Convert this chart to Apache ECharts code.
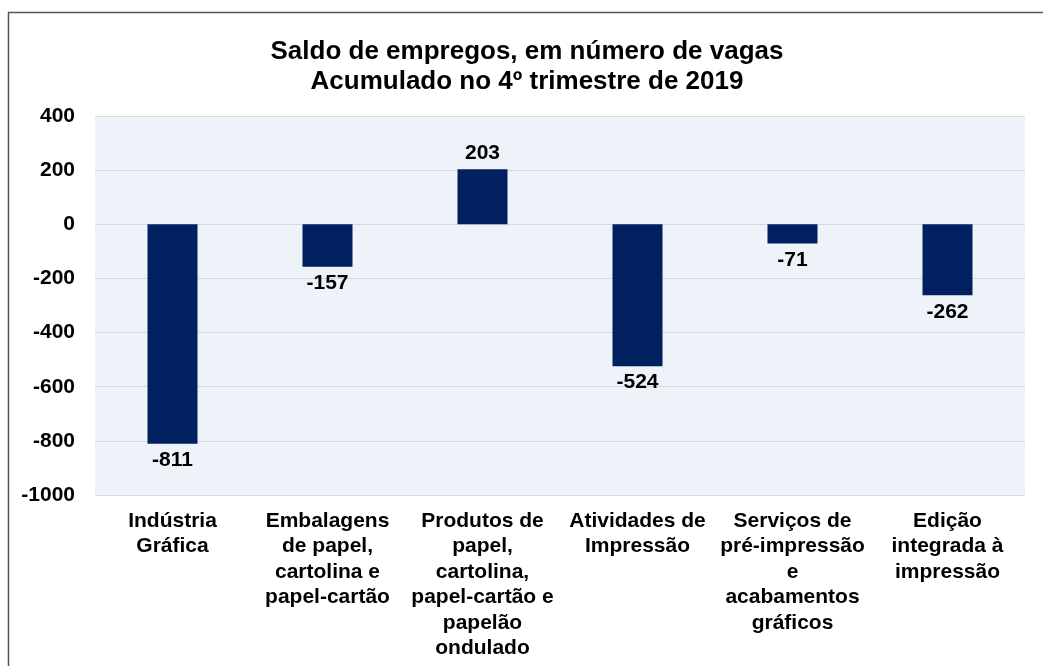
<!DOCTYPE html>
<html>
<head>
<meta charset="utf-8">
<script src="https://cdn.jsdelivr.net/npm/echarts@6/dist/echarts.min.js"></script>
<style>
  html, body { margin: 0; padding: 0; background: #fff; }
  #main { width: 1043px; height: 666px; }
</style>
</head>
<body>
<div id="main"></div>
<script>
var categories = [
  'Indústria\nGráfica',
  'Embalagens\nde papel,\ncartolina e\npapel-cartão',
  'Produtos de\npapel,\ncartolina,\npapel-cartão e\npapelão\nondulado',
  'Atividades de\nImpressão',
  'Serviços de\npré-impressão\ne\nacabamentos\ngráficos',
  'Edição\nintegrada à\nimpressão'
];
var saldo = [-811, -157, 203, -524, -71, -262];
var titleLines = ['Saldo de empregos, em número de vagas', 'Acumulado no 4º trimestre de 2019'];

var font = 'Liberation Sans, Arial, sans-serif';

var option = {
  backgroundColor: '#fff',
  animation: false,
  title: {
    text: titleLines.join('\n'),
    left: 522,
    top: 32,
    textAlign: 'center',
    textStyle: {
      fontFamily: font,
      fontSize: 26,
      fontWeight: 'bold',
      color: '#000',
      lineHeight: 30
    }
  },
  graphic: [{
    type: 'rect',
    shape: { x: 8.5, y: 12.5, width: 1060, height: 700 },
    style: { fill: 'none', stroke: '#555', lineWidth: 1.5 },
    silent: true
  }],
  grid: {
    left: 95,
    right: 18,
    top: 116,
    bottom: 171,
    show: true,
    backgroundColor: '#eef2f9',
    borderWidth: 0
  },
  xAxis: {
    type: 'category',
    data: categories,
    axisLine: { show: false },
    axisTick: { show: false },
    axisLabel: {
      interval: 0,
      margin: 13,
      fontFamily: font,
      fontSize: 21,
      fontWeight: 'bold',
      color: '#000',
      lineHeight: 25.5,
      align: 'center'
    }
  },
  yAxis: {
    type: 'value',
    min: -1000,
    max: 400,
    interval: 200,
    axisLine: { show: false },
    axisTick: { show: false },
    splitLine: { lineStyle: { color: '#d9d9d9', width: 1 } },
    axisLabel: {
      margin: 20,
      fontFamily: font,
      fontSize: 21,
      fontWeight: 'bold',
      color: '#000',
      formatter: function (v) { return String(v); }
    }
  },
  series: [{
    type: 'bar',
    barWidth: 50,
    itemStyle: { color: '#002060' },
    data: saldo.map(function (v) {
      return {
        value: v,
        label: {
          show: true,
          position: v >= 0 ? 'top' : 'bottom',
          distance: 6,
          fontFamily: font,
          fontSize: 21,
          fontWeight: 'bold',
          color: '#000'
        }
      };
    })
  }]
};

var myChart = echarts.init(document.getElementById('main'));
myChart.setOption(option);
</script>
</body>
</html>
